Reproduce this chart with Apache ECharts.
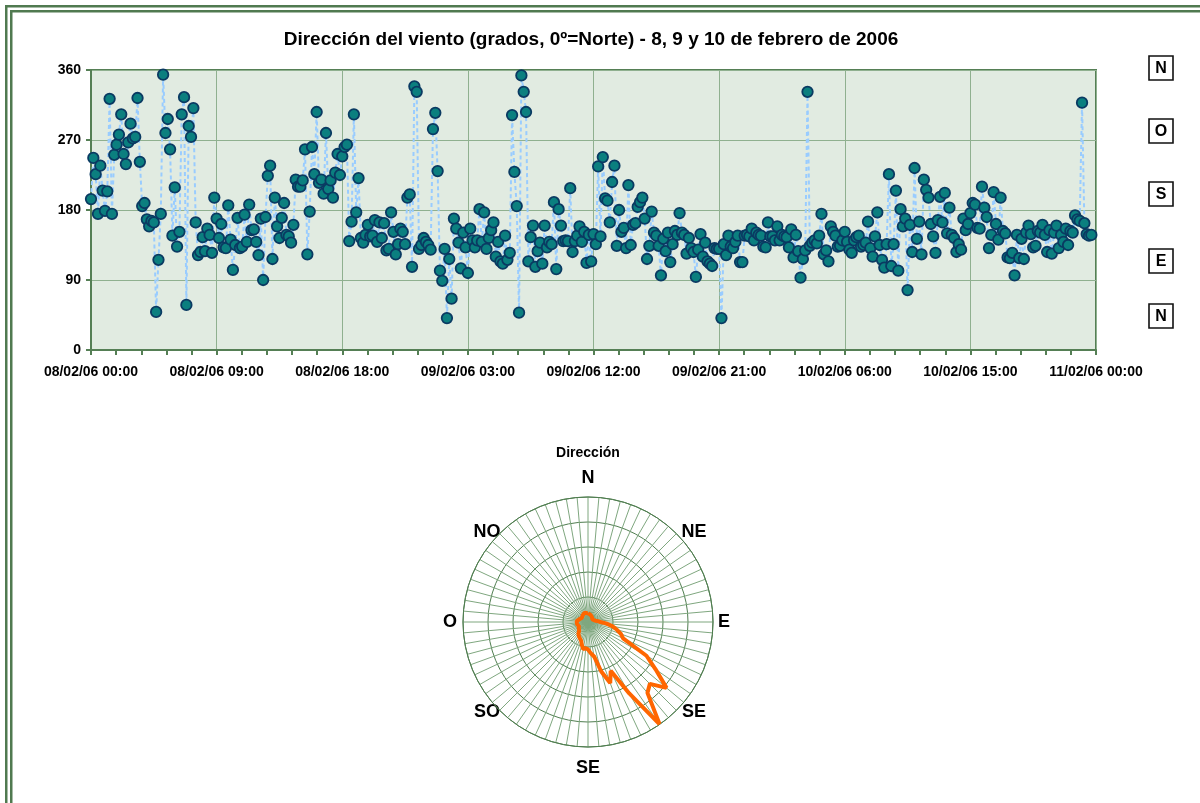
<!DOCTYPE html>
<html>
<head>
<meta charset="utf-8">
<script src="https://cdn.jsdelivr.net/npm/echarts/dist/echarts.min.js"></script>
<style>
html,body{margin:0;padding:0;background:#fff;}
#c{width:1200px;height:803px;}
</style>
</head>
<body>
<div id="c"></div>
<script>
// ---------- DATA ----------
const chartTitle = 'Dirección del viento (grados, 0º=Norte) - 8, 9 y 10 de febrero de 2006';
const roseTitle = 'Dirección';
const stepMinutes = 10; // readings every 10 minutes from 08/02/06 00:00
const xTickLabels = ['08/02/06 00:00','08/02/06 09:00','08/02/06 18:00','09/02/06 03:00','09/02/06 12:00','09/02/06 21:00','10/02/06 06:00','10/02/06 15:00','11/02/06 00:00'];
const yTickValues = [0, 90, 180, 270, 360];
const sideLabels = ['N','O','S','E','N'];
const compassLabels = ['N','NE','E','SE','SE','SO','O','NO'];

// wind direction (degrees), 8 Feb 2006, 00:00 .. 23:50
const day08 = [194,247,226,175,237,205,179,204,323,175,
251,264,277,303,252,239,267,291,272,274,
324,242,185,189,168,159,166,164,49,116,
175,354,279,297,258,147,209,133,152,303,
325,58,288,274,311,164,122,126,145,127,
156,148,125,196,169,144,162,132,131,186,
142,103,135,170,131,133,174,139,187,154,
155,139,122,169,90,171,224,237,117,196,
159,144,170,189,148,146,138,161,219,210,
210,218,258,123,178,261,226,306,215,219,
201,279,207,218,196,228,252,225,249,261,
264,140,165,303,177,221,144,138,148,161,
146,147,167,139,164,144,163,128,130,177,
152,123,136,156,152,136,196,200,107,339,
332,130,135,144];
// 9 Feb 2006, 00:00 .. 23:50
const day09 = [139,135,129,284,305,230,102,89,130,41,
117,66,169,156,138,105,151,132,99,156,
141,132,141,181,139,177,130,144,154,164,
120,139,114,111,147,116,125,302,229,185,
48,353,332,306,114,145,160,107,127,138,
111,160,132,139,136,190,104,181,160,140,
141,140,208,126,140,147,159,139,152,112,
148,114,149,136,236,146,248,195,192,164,
216,237,134,180,152,157,131,212,135,161,
163,184,190,196,169,117,134,178,151,147,
134,96,143,127,151,113,136,153,148,176,
151,148,124,144,131,126,94,129,149,120,
138,114,111,108,131,130,130,41,136,122,
147,133,131,139,147,113,113,147,148,146,
156,141,151,148];
// 10 Feb 2006, 00:00 .. 23:40
const day10 = [147,133,132,164,146,146,141,159,141,148,
146,145,132,155,119,148,127,93,117,128,
332,134,138,141,137,147,175,123,128,114,
159,152,147,133,134,141,152,139,129,125,
141,145,147,133,135,138,165,131,120,146,
177,135,116,106,136,226,108,136,205,102,
181,159,169,77,161,126,234,143,165,123,
219,206,196,162,146,125,167,197,164,202,
150,183,148,144,126,136,129,169,154,162,
176,189,187,157,156,210,183,171,131,148,
203,162,142,196,153,150,119,118,125,96,
148,118,143,117,151,160,149,132,134,153,
151,161,148,126,154,124,151,160,131,148,
139,156,135,153,151,173,168,166,318,163,
149,147,148];

// direction rose: one value per 5-degree sector, starting at North, clockwise
const roseSectorDeg = 5;
const roseValues = [3.5,3.5,3,3,3,3.5,3.5,3,2.5,2.5,
2,2,2,2,2.5,2.5,3,4,5,7.5,
10,12,14,15.5,27,33,41,35,37,50,
33,21.5,26,20.5,14,12.5,11,10.5,11,9.5,
8,7.5,7,7,6,5,4.5,4.5,4.5,4,
4,4.5,4.5,4.5,5,4.5,4,4,3.5,4,
3.5,3,3,3,3,3.5,3.5,3.5,4,3.5,
3.5,3.5];

// ---------- BUILD ----------
const allValues = day08.concat(day09, day10);
const scatterData = allValues.map((v, i) => [i * stepMinutes / 60, v]);
const roseData = roseValues.map((v, i) => [v, i * roseSectorDeg]);
roseData.push([roseValues[0], 360]);

const FONT = '"Liberation Sans", Arial, sans-serif';
const borderGreen = '#507A50';
const roseCenter = [588, 622];

const graphics = [
  // double frame (top and left)
  {type:'rect', shape:{x:5,y:5,width:1195,height:2.5}, style:{fill:borderGreen}, silent:true},
  {type:'rect', shape:{x:10,y:10,width:1190,height:2.5}, style:{fill:borderGreen}, silent:true},
  {type:'rect', shape:{x:5,y:5,width:2.5,height:798}, style:{fill:borderGreen}, silent:true},
  {type:'rect', shape:{x:10,y:10,width:2.5,height:793}, style:{fill:borderGreen}, silent:true},
  {type:'text', x:591, y:40, style:{text:chartTitle, font:'bold 19px ' + FONT, fill:'#000', align:'center', verticalAlign:'middle'}},
  {type:'text', x:588, y:453, style:{text:roseTitle, font:'bold 14px ' + FONT, fill:'#000', align:'center', verticalAlign:'middle'}}
];
const sideY = [68, 131, 194, 261, 316];
sideLabels.forEach((t, i) => {
  graphics.push({type:'rect', shape:{x:1149, y:sideY[i]-12, width:24, height:24}, style:{fill:'#fff', stroke:'#111', lineWidth:1.6}});
  graphics.push({type:'text', x:1161, y:sideY[i]+1, style:{text:t, font:'bold 16px ' + FONT, fill:'#000', align:'center', verticalAlign:'middle'}});
});
// compass labels around the rose (label offsets from the rose centre)
const compassOffsets = [[0,-144],[106,-90],[136,0],[106,90],[0,146],[-101,90],[-138,0],[-101,-90]];
compassLabels.forEach((t, i) => {
  graphics.push({type:'text', x: roseCenter[0] + compassOffsets[i][0], y: roseCenter[1] + compassOffsets[i][1],
    style:{text:t, font:'bold 18px ' + FONT, fill:'#000', align:'center', verticalAlign:'middle'}});
});

const chart = echarts.init(document.getElementById('c'), null, {renderer:'canvas'});
chart.setOption({
  animation: false,
  backgroundColor: '#ffffff',
  textStyle: {fontFamily: FONT},
  graphic: graphics,
  grid: {
    left: 91, right: 104, top: 70, bottom: 453,
    show: true, backgroundColor: '#E1EBE1', borderColor: '#557F55', borderWidth: 2
  },
  xAxis: {
    type: 'value', min: 0, max: 72, interval: 9,
    axisLine: {show: true, onZero: false, lineStyle: {color: '#557F55', width: 2}},
    axisTick: {show: true, length: 5, lineStyle: {color: '#557F55', width: 2}},
    minorTick: {show: true, splitNumber: 5, length: 5, lineStyle: {color: '#557F55', width: 2}},
    splitLine: {show: true, lineStyle: {color: '#8FB08F', width: 1}},
    axisLabel: {
      margin: 15, color: '#000', fontWeight: 'bold', fontSize: 14, fontFamily: FONT,
      formatter: v => xTickLabels[Math.round(v / 9)] || ''
    }
  },
  yAxis: {
    type: 'value', min: 0, max: 360, interval: 90,
    axisLine: {show: true, onZero: false, lineStyle: {color: '#557F55', width: 2}},
    axisTick: {show: true, length: 5, lineStyle: {color: '#557F55', width: 2}},
    splitLine: {show: true, lineStyle: {color: '#8FB08F', width: 1}},
    axisLabel: {margin: 10, color: '#000', fontWeight: 'bold', fontSize: 14, fontFamily: FONT,
      formatter: v => (yTickValues.indexOf(v) >= 0 ? String(v) : '')}
  },
  polar: {center: roseCenter, radius: 125},
  angleAxis: {
    type: 'value', min: 0, max: 360, interval: roseSectorDeg, startAngle: 90, clockwise: true,
    axisLine: {show: true, lineStyle: {color: '#4F7D4F', width: 1}},
    axisTick: {show: false},
    splitLine: {show: true, lineStyle: {color: '#7FA77F', width: 1}},
    axisLabel: {show: false}
  },
  radiusAxis: {
    type: 'value', min: 0, max: 50, interval: 10,
    axisLine: {show: false}, axisTick: {show: false}, axisLabel: {show: false},
    splitLine: {show: true, lineStyle: {color: '#4F7D4F', width: 1}}
  },
  series: [
    {
      type: 'line', xAxisIndex: 0, yAxisIndex: 0, data: scatterData,
      symbol: 'circle', symbolSize: 10.5, showAllSymbol: true,
      itemStyle: {color: '#0B7F7F', borderColor: '#0A3A62', borderWidth: 1.8},
      lineStyle: {color: '#99CCFF', width: 2, type: [4, 3]},
      z: 3
    },
    {
      type: 'line', coordinateSystem: 'polar', data: roseData,
      symbol: 'none', lineStyle: {color: '#FF6600', width: 4}, z: 4
    }
  ]
});
</script>
</body>
</html>
